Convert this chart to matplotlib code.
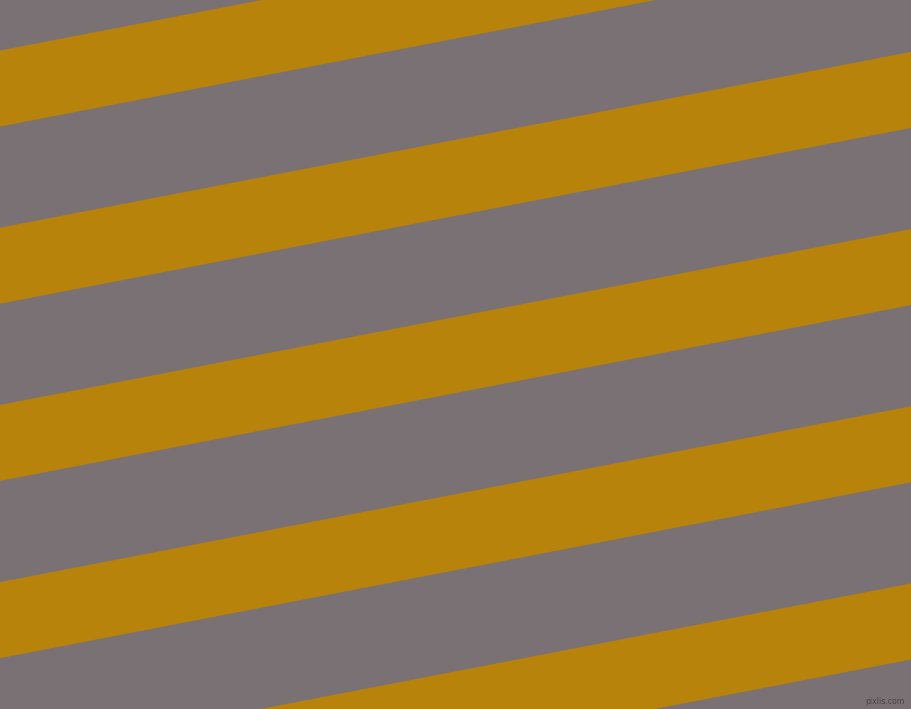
import matplotlib
matplotlib.use("Agg")
import matplotlib.pyplot as plt
import numpy as np

# Stripe geometry (pixel units)
stripe_top_at_left = [-126.7, 50.5, 227.7, 404.9, 582.1, 759.3]
stripe_height = [76, 76, 76, 76, 76, 76]
stripe_slope = -0.193
background_color = "#7a7174"
stripe_color = "#b8830a"
watermark = "pixlis.com"

W, H = 912, 709
fig = plt.figure(figsize=(W / 100, H / 100), dpi=100)
fig.patch.set_facecolor(background_color)
ax = fig.add_axes([0, 0, 1, 1])
ax.set_facecolor(background_color)
ax.set_xlim(0, W)
ax.set_ylim(H, 0)
ax.axis("off")

x = np.array([-5, W + 5])
for top, h in zip(stripe_top_at_left, stripe_height):
    y1 = top + stripe_slope * x
    ax.fill_between(x, y1, y1 + h, color=stripe_color, linewidth=0)

ax.text(905, 704, watermark, fontsize=5.6, color="#4a4446", ha="right", va="baseline")

fig.savefig("out.png", dpi=100, facecolor=background_color)
